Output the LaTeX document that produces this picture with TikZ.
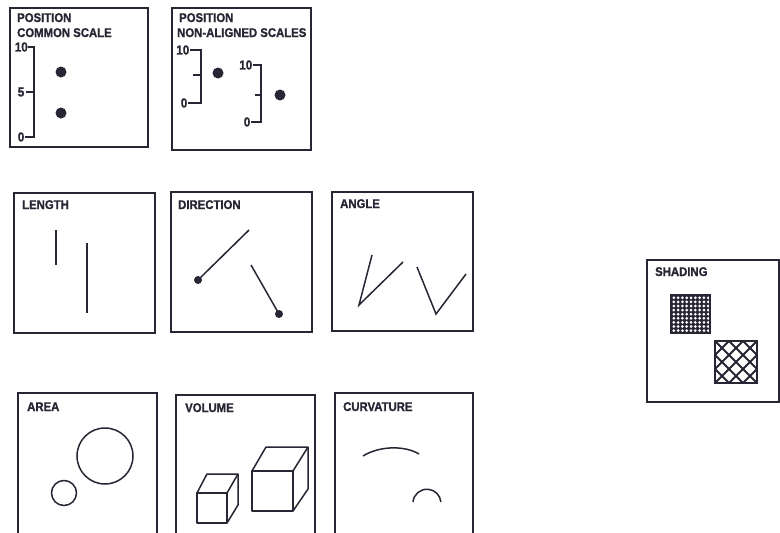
\documentclass[tikz,border=0pt]{standalone}
\usepackage{fontspec}
\setmainfont{Liberation Sans}
\newfontfamily\labfont[FakeStretch=0.9,FakeBold=1.2]{Liberation Sans Bold}
\definecolor{inkc}{RGB}{38,38,52}
\begin{document}
\begin{tikzpicture}[x=1pt,y=-1pt,
  frame/.style={draw=inkc, line width=1.6pt},
  ink/.style={draw=inkc, line width=1.6pt},
  thin/.style={draw=inkc, line width=1.5pt},
  dot/.style={fill=inkc},
  ttl/.style={font=\labfont\fontsize{12.6}{13}\selectfont, text=inkc, anchor=base west, inner sep=0pt},
  num/.style={font=\labfont\fontsize{13}{13}\selectfont, text=inkc, anchor=east, inner sep=0pt}]
\useasboundingbox (0,0) rectangle (780,533);
\fill[white] (0,0) rectangle (780,533);

% ---------- POSITION, COMMON SCALE ----------
\draw[frame] (10,8) rectangle (148,147);
\node[ttl] (t1a) at (17,22) {POSITION};
\node[ttl] (t1b) at (17,37) {COMMON SCALE};
\draw[ink] (28,47) -- (34,47) -- (34,137) -- (25,137);
\draw[ink] (26,92) -- (34,92);
\node[num] (n1a) at (28,47) {10};
\node[num] (n1b) at (24.5,92) {5};
\node[num] (n1c) at (24.5,137) {0};
\fill[dot] (61,72) circle (5.5);
\fill[dot] (61,113) circle (5.5);

% ---------- POSITION, NON-ALIGNED SCALES ----------
\draw[frame] (172,8) rectangle (311,150);
\node[ttl] (t2a) at (179,22) {POSITION};
\node[ttl] (t2b) at (177,37) {NON-ALIGNED SCALES};
\draw[ink] (190,50) -- (201,50) -- (201,103) -- (188,103);
\draw[ink] (193,75) -- (201,75);
\node[num] (n2a) at (189.5,50) {10};
\node[num] (n2b) at (187.5,103) {0};
\fill[dot] (218,73) circle (5.5);
\draw[ink] (253,65) -- (261,65) -- (261,122) -- (251,122);
\draw[ink] (255,95) -- (261,95);
\node[num] (n2c) at (252.5,65) {10};
\node[num] (n2d) at (250.5,122) {0};
\fill[dot] (280,95) circle (5.5);

% ---------- LENGTH ----------
\draw[frame] (14,193) rectangle (155,333);
\node[ttl] (t3) at (22,209) {LENGTH};
\draw[ink] (56,230) -- (56,265);
\draw[ink] (87,243) -- (87,313);

% ---------- DIRECTION ----------
\draw[frame] (171,192) rectangle (312,332);
\node[ttl] (t4) at (178,209) {DIRECTION};
\coordinate (d1a) at (198,280);
\coordinate (d1b) at (249,230);
\coordinate (d2a) at (251,265);
\coordinate (d2b) at (279,314);
\draw[thin] (d1a) -- (d1b);
\draw[thin] (d2a) -- (d2b);
\fill[dot] (d1a) circle (4);
\fill[dot] (d2b) circle (4);

% ---------- ANGLE ----------
\draw[frame] (332,192) rectangle (473,331);
\node[ttl] (t5) at (340,208) {ANGLE};
\draw[thin, line join=miter] (372,255) -- (359,305) -- (403,262);
\draw[thin, line join=miter] (417,267) -- (436,314) -- (466,274);

% ---------- AREA ----------
\draw[frame] (18,540) -- (18,393) -- (157,393) -- (157,540);
\node[ttl] (t6) at (27,411) {AREA};
\draw[thin] (105,456) circle (28);
\draw[thin] (64,493) circle (12.5);

% ---------- VOLUME ----------
\draw[frame] (176,540) -- (176,395) -- (315,395) -- (315,540);
\node[ttl] (t7) at (185,412) {VOLUME};
% small cube
\draw[thin, line join=round] (197,493) rectangle (227,523);
\draw[thin, line join=round] (197,493) -- (207,474) -- (238,474) -- (227,493);
\draw[thin, line join=round] (238,474) -- (238,505) -- (227,523);
% big cube
\draw[thin, line join=round] (252,471) rectangle (293,511);
\draw[thin, line join=round] (252,471) -- (266,447) -- (308,447) -- (293,471);
\draw[thin, line join=round] (308,447) -- (308,489) -- (293,511);

% ---------- CURVATURE ----------
\draw[frame] (335,540) -- (335,393) -- (473,393) -- (473,540);
\node[ttl] (t8) at (343,411) {CURVATURE};
\draw[thin] (363,456) .. controls (380,445.5) and (405,445.5) .. (419,454);
\draw[thin] (413,502) arc[start angle=185, end angle=355, radius=14];

% ---------- SHADING ----------
\draw[frame] (647,260) rectangle (779,402);
\node[ttl] (t9) at (655,276) {SHADING};
% fine pattern
\fill[inkc] (671,295) rectangle (710,333);
\foreach \i in {0,...,8} {
  \foreach \j in {0,...,8} {
    \fill[white] ({673.8+\i*4.3},{297.8+\j*4.1}) circle (1.5);
  }
}
\draw[inkc, line width=1.4pt] (671,295) rectangle (710,333);
% coarse crosshatch
\begin{scope}
  \clip (715,341) rectangle (757,383);
  \foreach \k in {-3,...,3} {
    \draw[inkc, line width=2pt] ({715+\k*14},341) -- ({757+\k*14},383);
    \draw[inkc, line width=2pt] ({757-\k*14},341) -- ({715-\k*14},383);
  }
\end{scope}
\draw[inkc, line width=1.8pt] (715,341) rectangle (757,383);
\end{tikzpicture}
\end{document}
